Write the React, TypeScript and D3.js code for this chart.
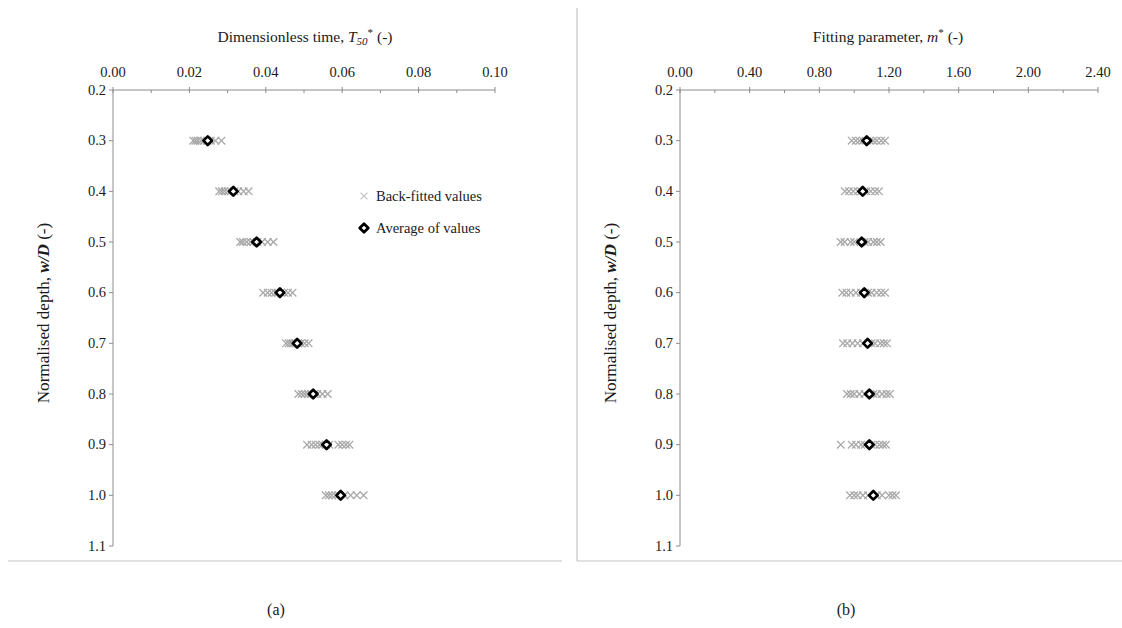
import React from "react";
import * as d3 from "d3";

// ---- data ----
const depths = [0.3, 0.4, 0.5, 0.6, 0.7, 0.8, 0.9, 1.0];
const yTicks = [0.2, 0.3, 0.4, 0.5, 0.6, 0.7, 0.8, 0.9, 1.0, 1.1];
const t50Ticks = [0, 0.02, 0.04, 0.06, 0.08, 0.1];
const mTicks = [0, 0.4, 0.8, 1.2, 1.6, 2.0, 2.4];

const t50Avg = [0.0248, 0.0315, 0.0376, 0.0437, 0.0482, 0.0524, 0.0559, 0.0596];
const t50Fit = [
  [0.021, 0.0216, 0.0222, 0.023, 0.0238, 0.0246, 0.0256, 0.0268, 0.0284],
  [0.0278, 0.0285, 0.0292, 0.03, 0.0308, 0.0318, 0.0328, 0.0342, 0.0355],
  [0.0333, 0.034, 0.035, 0.036, 0.0368, 0.0378, 0.039, 0.0405, 0.042],
  [0.0393, 0.0405, 0.0415, 0.0425, 0.0432, 0.044, 0.0448, 0.0458, 0.047],
  [0.0453, 0.046, 0.0466, 0.0472, 0.0478, 0.0485, 0.0492, 0.0502, 0.0512],
  [0.0485, 0.0494, 0.0502, 0.051, 0.0518, 0.0527, 0.0535, 0.0548, 0.0562],
  [0.0508, 0.052, 0.053, 0.054, 0.0548, 0.0558, 0.0566, 0.059, 0.06, 0.061, 0.0619],
  [0.0557, 0.0565, 0.0573, 0.0582, 0.059, 0.0606, 0.0622, 0.0638, 0.0656],
];

const mAvg = [1.072, 1.049, 1.043, 1.058, 1.077, 1.087, 1.087, 1.11];
const mFit = [
  [0.986, 1.01, 1.03, 1.05, 1.09, 1.11, 1.13, 1.155, 1.177],
  [0.947, 0.97, 0.995, 1.02, 1.04, 1.07, 1.095, 1.12, 1.142],
  [0.923, 0.945, 0.98, 1.0, 1.06, 1.08, 1.11, 1.13, 1.152],
  [0.932, 0.955, 0.98, 1.01, 1.04, 1.08, 1.1, 1.13, 1.155, 1.177],
  [0.936, 0.96, 0.99, 1.02, 1.05, 1.1, 1.12, 1.15, 1.17, 1.188],
  [0.959, 0.98, 1.0, 1.03, 1.06, 1.11, 1.13, 1.16, 1.185, 1.205],
  [0.923, 0.986, 1.01, 1.04, 1.06, 1.1, 1.12, 1.145, 1.165, 1.183],
  [0.976, 1.0, 1.02, 1.05, 1.08, 1.13, 1.16, 1.2, 1.22, 1.24],
];

const FONT = "Liberation Serif, Tinos, Times New Roman, DejaVu Serif, serif";
const AXIS = "#8c8c8c";
const CROSS = "#a8a8a8";
const TXT = "#1a1a1a";

const yScale = d3.scaleLinear().domain([0.2, 1.1]).range([90, 546]);

function Cross({ x, y, s = 3.8, color = CROSS }: any) {
  return (
    <path
      d={`M${x - s},${y - s}L${x + s},${y + s}M${x - s},${y + s}L${x + s},${y - s}`}
      stroke={color}
      strokeWidth={1.3}
      fill="none"
    />
  );
}

function Diamond({ x, y }: any) {
  const r = 4.3;
  return (
    <path
      d={`M${x},${y - r}L${x + r},${y}L${x},${y + r}L${x - r},${y}Z`}
      fill="#fff"
      stroke="#000"
      strokeWidth={2.7}
      strokeLinejoin="round"
    />
  );
}

function Panel({ x0, x1, domainMax, ticks, fmt, minorStep, avg, fit, title, yLabelX, tickLabelX }: any) {
  const xs = d3.scaleLinear().domain([0, domainMax]).range([x0, x1]);
  const minor = d3.range(0, domainMax + minorStep / 2, minorStep);
  const yTop = yScale(0.2);
  const yBot = yScale(1.1);
  return (
    <g style={{ fontFamily: FONT }}>
      {title}
      <line x1={x0} x2={x1} y1={yTop} y2={yTop} stroke={AXIS} strokeWidth={1} />
      {minor.map((v: number, i: number) => (
        <line key={"mn" + i} x1={xs(v)} x2={xs(v)} y1={yTop} y2={yTop + 3} stroke={AXIS} strokeWidth={1} />
      ))}
      {ticks.map((v: number, i: number) => (
        <g key={"xt" + i}>
          <line x1={xs(v)} x2={xs(v)} y1={yTop - 3} y2={yTop} stroke={AXIS} strokeWidth={1} />
          <text x={xs(v)} y={77} textAnchor="middle" fontSize={14.5} fill={TXT}>
            {fmt(v)}
          </text>
        </g>
      ))}
      <line x1={x0} x2={x0} y1={yTop} y2={yBot} stroke={AXIS} strokeWidth={1} />
      {yTicks.map((v, i) => (
        <g key={"yt" + i}>
          <line x1={x0 - 4} x2={x0} y1={yScale(v)} y2={yScale(v)} stroke={AXIS} strokeWidth={1} />
          <text x={tickLabelX} y={yScale(v) + 4.5} textAnchor="end" fontSize={14.5} fill={TXT}>
            {v.toFixed(1)}
          </text>
        </g>
      ))}
      <text
        transform={`translate(${yLabelX},${(yTop + yBot) / 2 - 5}) rotate(-90) scale(1.07,1)`}
        textAnchor="middle"
        fontSize={16}
        fill={TXT}
      >
        Normalised depth,{" "}
        <tspan fontStyle="italic" fontWeight="bold">w/D</tspan>
        {"  (-)"}
      </text>
      {fit.map((row: number[], i: number) =>
        row.map((v: number, j: number) => <Cross key={`c${i}-${j}`} x={xs(v)} y={yScale(depths[i])} />)
      )}
      {avg.map((v: number, i: number) => (
        <Diamond key={"d" + i} x={xs(v)} y={yScale(depths[i])} />
      ))}
    </g>
  );
}

export default function App() {
  return (
    <svg
      width={1122}
      height={628}
      style={{ position: "absolute", left: 0, top: 0, background: "#fff", fontFamily: FONT }}
    >
      <rect width={1122} height={628} fill="#fff" />
      <line x1={8} x2={562} y1={561} y2={561} stroke="#c4c4c4" strokeWidth={1.2} />
      <line x1={577} x2={577} y1={8} y2={561} stroke="#c4c4c4" strokeWidth={1.2} />
      <line x1={577} x2={1122} y1={561} y2={561} stroke="#c4c4c4" strokeWidth={1.2} />

      <Panel
        x0={113}
        x1={495}
        domainMax={0.1}
        ticks={t50Ticks}
        fmt={(v: number) => v.toFixed(2)}
        minorStep={0.01}
        avg={t50Avg}
        fit={t50Fit}
        yLabelX={49}
        tickLabelX={106}
        title={
          <text x={305} y={42} textAnchor="middle" fontSize={15.5} fill={TXT}>
            Dimensionless time,{" "}
            <tspan fontStyle="italic">T</tspan>
            <tspan fontStyle="italic" fontSize={11} dy={3}>50</tspan>
            <tspan fontSize={11} dy={-9}>*</tspan>
            <tspan dy={6}>{"  (-)"}</tspan>
          </text>
        }
      />
      <Panel
        x0={680}
        x1={1098}
        domainMax={2.4}
        ticks={mTicks}
        fmt={(v: number) => v.toFixed(2)}
        minorStep={0.2}
        avg={mAvg}
        fit={mFit}
        yLabelX={616}
        tickLabelX={673}
        title={
          <text x={888} y={42} textAnchor="middle" fontSize={15.5} fill={TXT}>
            Fitting parameter,{" "}
            <tspan fontStyle="italic">m</tspan>
            <tspan fontSize={11} dy={-6}>*</tspan>
            <tspan dy={6}>{"  (-)"}</tspan>
          </text>
        }
      />

      <g>
        <Cross x={364} y={196} s={3.4} color="#c4c4c4" />
        <text x={376} y={201} fontSize={14.5} fill={TXT}>Back-fitted values</text>
        <Diamond x={364} y={228} />
        <text x={376} y={233} fontSize={14.5} fill={TXT}>Average of values</text>
      </g>

      <text x={276} y={615} textAnchor="middle" fontSize={16} fill={TXT}>(a)</text>
      <text x={846} y={615} textAnchor="middle" fontSize={16} fill={TXT}>(b)</text>
    </svg>
  );
}
